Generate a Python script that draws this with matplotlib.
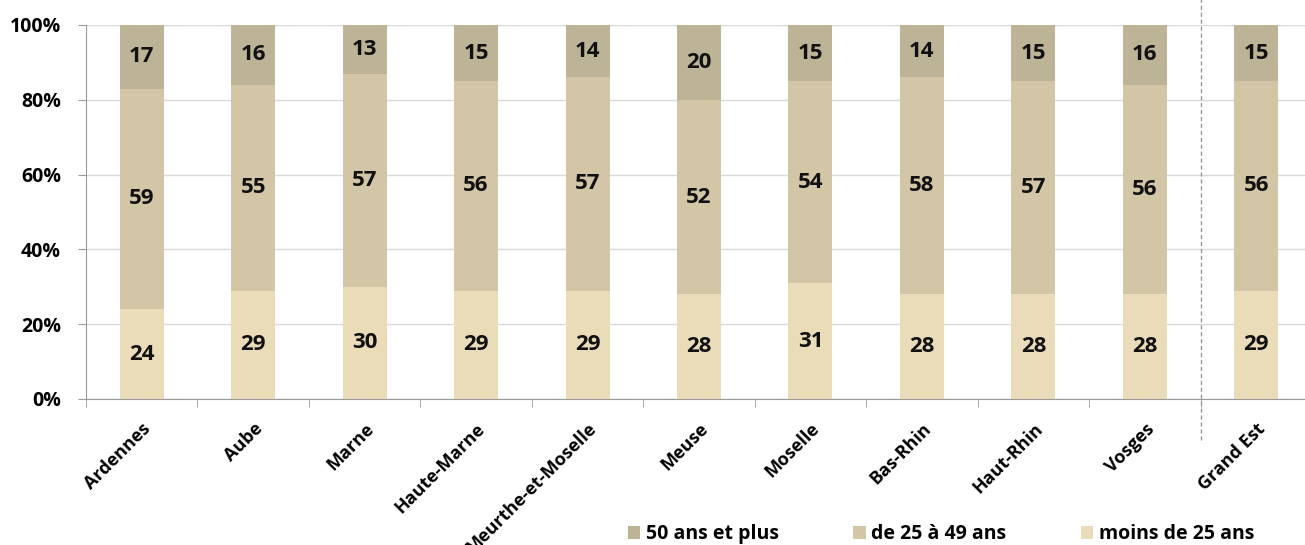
import matplotlib
matplotlib.use("Agg")
import matplotlib.pyplot as plt
from matplotlib.patches import Patch

categories = ["Ardennes", "Aube", "Marne", "Haute-Marne", "Meurthe-et-Moselle",
              "Meuse", "Moselle", "Bas-Rhin", "Haut-Rhin", "Vosges", "Grand Est"]
moins_25 = [24, 29, 30, 29, 29, 28, 31, 28, 28, 28, 29]
de_25_49 = [59, 55, 57, 56, 57, 52, 54, 58, 57, 56, 56]
plus_50 = [17, 16, 13, 15, 14, 20, 15, 14, 15, 16, 15]
yticks = [0, 20, 40, 60, 80, 100]
series_names = ["50 ans et plus", "de 25 à 49 ans", "moins de 25 ans"]

c_top = "#bdb397"
c_mid = "#d3c6a6"
c_bot = "#eadcb9"

plt.rcParams['font.family'] = ['Open Sans', 'DejaVu Sans']

fig = plt.figure(figsize=(13.05, 5.45), dpi=100)
ax = fig.add_axes([86/1305, 1-399/545, (1312-86)/1305, (399-25)/545])

x = list(range(len(categories)))
w = 0.395
ax.bar(x, moins_25, width=w, color=c_bot, zorder=2)
ax.bar(x, de_25_49, width=w, bottom=moins_25, color=c_mid, zorder=2)
bot2 = [a + b for a, b in zip(moins_25, de_25_49)]
ax.bar(x, plus_50, width=w, bottom=bot2, color=c_top, zorder=2)

lab_kw = dict(ha='center', va='center', fontsize=16, fontweight='bold',
              color='#111111', zorder=3)
for i in x:
    ax.text(i, moins_25[i] / 2, str(moins_25[i]), **lab_kw)
    ax.text(i, moins_25[i] + de_25_49[i] / 2, str(de_25_49[i]), **lab_kw)
    ax.text(i, bot2[i] + plus_50[i] / 2, str(plus_50[i]), **lab_kw)

ax.set_xlim(-0.5, len(categories) - 0.5)
ax.set_ylim(0, 100)
ax.set_yticks(yticks)
ax.set_yticklabels([f"{v}%" for v in yticks], fontsize=14, fontweight='bold')
ax.yaxis.grid(True, color='#d9d9d9', linewidth=1, zorder=0)
ax.set_axisbelow(True)

ax.set_xticks(x)
ax.set_xticklabels(categories, rotation=45, ha='right', rotation_mode='anchor',
                   fontsize=13, fontweight='bold')
ax.tick_params(axis='x', length=0, pad=15)
ax.set_xticks([i + 0.5 for i in x[:-1]] + [-0.5], minor=True)
ax.tick_params(axis='x', which='minor', length=6, color='#999999', direction='out')
ax.tick_params(axis='y', length=6, color='#999999', pad=12)

for s in ['top', 'right']:
    ax.spines[s].set_visible(False)
ax.spines['left'].set_color('#999999')
ax.spines['bottom'].set_color('#999999')

# dashed separator between departments and Grand Est
ax.plot([9.5, 9.5], [-0.11, 1.07], transform=ax.get_xaxis_transform(),
        color='#999999', linestyle=(0, (3, 2)), linewidth=1, clip_on=False, zorder=1)

handles = [Patch(facecolor=c_top), Patch(facecolor=c_mid), Patch(facecolor=c_bot)]
fig.legend(handles, series_names, loc='center', bbox_to_anchor=(941/1305, 1-534/545),
           ncol=3, frameon=False, prop={'weight': 'bold', 'size': 14},
           handlelength=0.65, handleheight=0.65, handletextpad=0.3, columnspacing=3.8)

fig.savefig("out.png", dpi=100)
